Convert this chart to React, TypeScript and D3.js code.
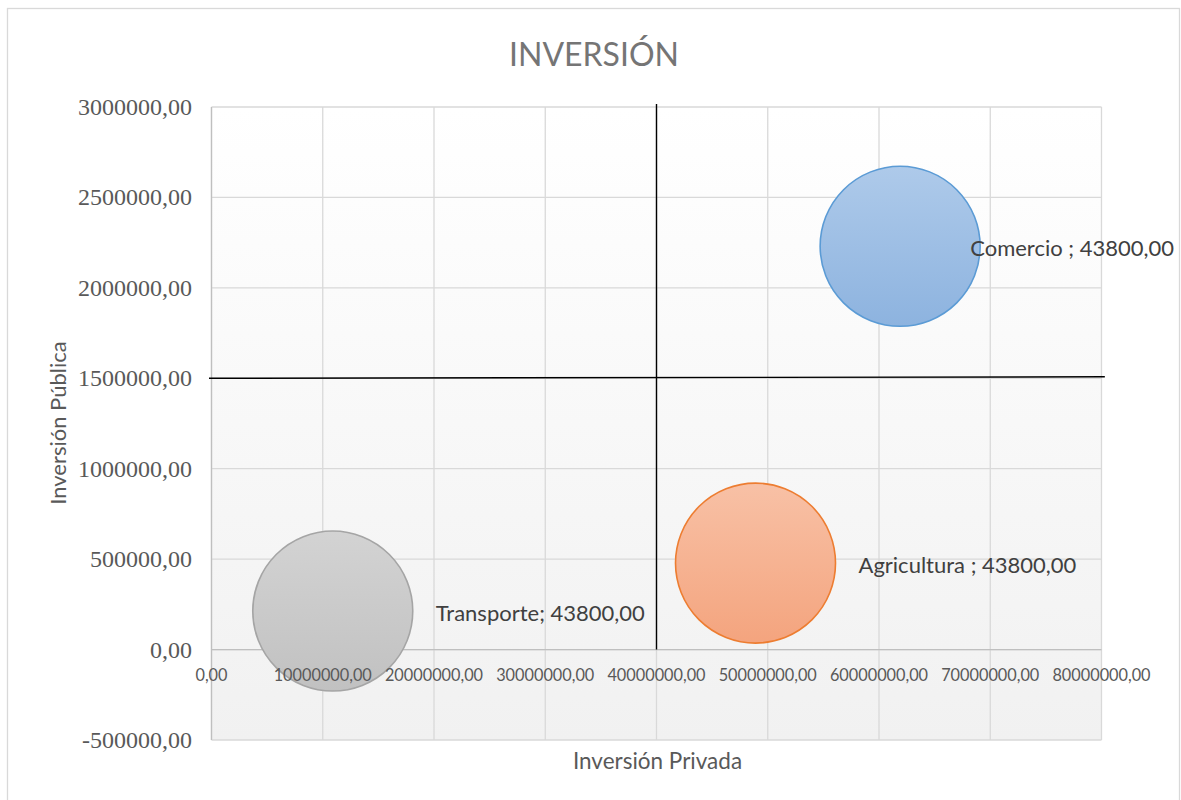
import React from "react";
import * as d3 from "d3";

// bubble series
const sectors = ["Comercio", "Agricultura", "Transporte"];
const privada = [61900000, 48900000, 10900000];
const publica = [2230000, 478000, 213000];
const sizes = [43800, 43800, 43800];
const labelSep = [" ; ", " ; ", "; "];

const xTicks = [0, 10000000, 20000000, 30000000, 40000000, 50000000, 60000000, 70000000, 80000000];
const yTicks = [-500000, 0, 500000, 1000000, 1500000, 2000000, 2500000, 3000000];

// quadrant split lines
const splitX = 40000000;
const splitY = 1500000;

const fills = [
  ["#aecaea", "#8db3df", "#5b9bd5"],
  ["#f8c1a6", "#f4a47e", "#ed7d31"],
  ["#d3d3d3", "#c1c1c1", "#a5a5a5"],
];

const W = 1181;
const H = 800;
const plot = { left: 211.5, right: 1101.5, top: 107, bottom: 740 };
const SANS = "Lato, 'Open Sans', sans-serif";
const SERIF = "'Liberation Serif', 'Times New Roman', serif";

const fmt = (v: number) => v.toFixed(2).replace(".", ",");

export default function App() {
  const x = d3.scaleLinear().domain([0, 80000000]).range([plot.left, plot.right]);
  const y = d3.scaleLinear().domain([-500000, 3000000]).range([plot.bottom, plot.top]);
  const r = d3.scaleSqrt().domain([0, 43800]).range([0, 80]);

  return (
    <svg
      width={W}
      height={H}
      style={{ position: "absolute", left: 0, top: 0, background: "#fff" }}
    >
      <defs>
        <linearGradient id="plotBg" x1="0" y1="0" x2="0" y2="1">
          <stop offset="0" stopColor="#ffffff" />
          <stop offset="1" stopColor="#f1f1f1" />
        </linearGradient>
        {fills.map((f, i) => (
          <linearGradient key={i} id={`bub${i}`} x1="0" y1="0" x2="0" y2="1">
            <stop offset="0" stopColor={f[0]} />
            <stop offset="1" stopColor={f[1]} />
          </linearGradient>
        ))}
      </defs>

      {/* chart frame */}
      <rect x={7.5} y={8.5} width={1172} height={800} fill="#fff" stroke="#d9d9d9" strokeWidth={1.3} />

      {/* plot area */}
      <rect
        x={plot.left}
        y={plot.top}
        width={plot.right - plot.left}
        height={plot.bottom - plot.top}
        fill="url(#plotBg)"
      />

      {/* gridlines */}
      {xTicks.map((t) => (
        <line key={"gx" + t} x1={x(t)} x2={x(t)} y1={plot.top} y2={plot.bottom} stroke="#d9d9d9" strokeWidth={1.3} />
      ))}
      {yTicks.map((t) => (
        <line key={"gy" + t} x1={plot.left} x2={plot.right} y1={y(t)} y2={y(t)} stroke="#d9d9d9" strokeWidth={1.3} />
      ))}

      {/* axes */}
      <line x1={x(0)} x2={x(0)} y1={plot.top} y2={plot.bottom} stroke="#bfbfbf" strokeWidth={1.3} />
      <line x1={plot.left} x2={plot.right} y1={y(0)} y2={y(0)} stroke="#bfbfbf" strokeWidth={1.3} />

      {/* quadrant lines */}
      <line x1={x(0) - 2.5} x2={x(80300000)} y1={y(splitY)} y2={y(splitY) - 1.5} stroke="#000" strokeWidth={1.4} />
      <line x1={x(splitX)} x2={x(splitX)} y1={plot.top - 3} y2={y(0)} stroke="#000" strokeWidth={1.4} />

      {/* bubbles */}
      {sectors.map((s, i) => (
        <circle
          key={s}
          cx={x(privada[i])}
          cy={y(publica[i])}
          r={r(sizes[i])}
          fill={`url(#bub${i})`}
          stroke={fills[i][2]}
          strokeWidth={1.6}
        />
      ))}

      {/* y tick labels */}
      {yTicks.map((t) => (
        <text
          key={"ly" + t}
          x={192}
          y={y(t)}
          textAnchor="end"
          dominantBaseline="central"
          fontFamily={SERIF}
          fontSize={24}
          fill="#595959"
        >
          {fmt(t)}
        </text>
      ))}

      {/* x tick labels */}
      {xTicks.map((t) => (
        <text
          key={"lx" + t}
          x={x(t)}
          y={y(0) + 25}
          textAnchor="middle"
          dominantBaseline="central"
          fontFamily={SANS}
          fontSize={16.3}
          fill="#595959"
        >
          {fmt(t)}
        </text>
      ))}

      {/* data labels */}
      {sectors.map((s, i) => {
        const cx = x(privada[i]);
        const rad = r(sizes[i]);
        const overflow = cx + rad + 22 + 205 > W - 4;
        return (
          <text
            key={"dl" + s}
            x={overflow ? W - 7 : cx + rad + 23}
            y={y(publica[i]) + 1.5}
            textAnchor={overflow ? "end" : "start"}
            dominantBaseline="central"
            fontFamily={SANS}
            fontSize={22}
            fill="#404040"
          >
            {s + labelSep[i] + fmt(sizes[i])}
          </text>
        );
      })}

      {/* title */}
      <text x={594} y={53} textAnchor="middle" dominantBaseline="central" fontFamily={SANS} fontSize={32} fill="#757575">
        INVERSIÓN
      </text>

      {/* axis titles */}
      <text
        x={(plot.left + plot.right) / 2 + 1}
        y={760}
        textAnchor="middle"
        dominantBaseline="central"
        fontFamily={SANS}
        fontSize={22.5}
        fill="#595959"
      >
        Inversión Privada
      </text>
      <text
        transform={`translate(57,${(plot.top + plot.bottom) / 2 - 0.5}) rotate(-90)`}
        textAnchor="middle"
        dominantBaseline="central"
        fontFamily={SANS}
        fontSize={22}
        fill="#595959"
      >
        Inversión Pública
      </text>
    </svg>
  );
}
